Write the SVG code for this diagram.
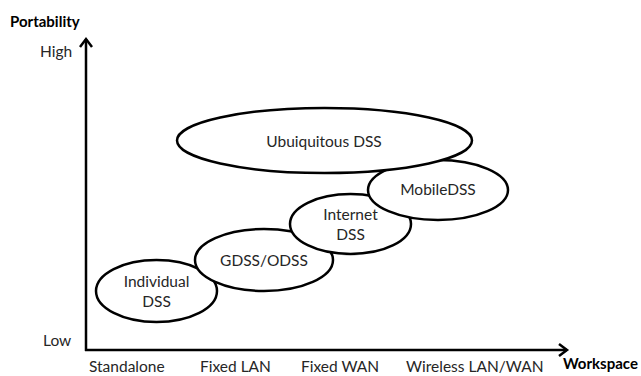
<svg xmlns="http://www.w3.org/2000/svg" width="641" height="376" viewBox="0 0 641 376">
<style>
  .lbl { font-family: Lato, "Liberation Sans", sans-serif; font-size: 15.5px; fill: #262626; }
  .bold { font-family: Lato, "Liberation Sans", sans-serif; font-size: 15px; font-weight: bold; fill: #000; }
  .node ellipse { fill: #fff; stroke: #000; stroke-width: 2.5; }
  .node text { font-family: Lato, "Liberation Sans", sans-serif; font-size: 15.5px; fill: #262626; text-anchor: middle; }
  .axis { stroke: #000; stroke-width: 2.5; fill: none; }
</style>
<rect width="641" height="376" fill="#fff"/>
<g id="connectors">
  <line class="axis" x1="86" y1="351" x2="86" y2="39"/>
  <polyline class="axis" points="80,47 86,39 92,47"/>
  <line class="axis" x1="85" y1="350" x2="567" y2="350"/>
  <polyline class="axis" points="559,344 567,350 559,356"/>
</g>
<g id="node-individual" class="node">
  <ellipse cx="156.5" cy="291" rx="60.5" ry="31"/>
  <text x="156.5" y="287">Individual</text>
  <text x="156.5" y="307">DSS</text>
</g>
<g id="node-gdss" class="node">
  <ellipse cx="264" cy="260" rx="69" ry="31"/>
  <text x="264" y="266">GDSS/ODSS</text>
</g>
<g id="node-internet" class="node">
  <ellipse cx="350.5" cy="224" rx="60.5" ry="30"/>
  <text x="350.5" y="220">Internet</text>
  <text x="350.5" y="240">DSS</text>
</g>
<g id="node-mobile" class="node">
  <ellipse cx="438" cy="190" rx="70" ry="30"/>
  <text x="438" y="195">MobileDSS</text>
</g>
<g id="node-ubiquitous" class="node">
  <ellipse cx="324.5" cy="140.5" rx="147.5" ry="32.5"/>
  <text x="324" y="147">Ubuiquitous DSS</text>
</g>
<g id="labels">
  <text class="bold" x="10" y="27">Portability</text>
  <text class="lbl" x="40" y="57">High</text>
  <text class="lbl" x="43" y="346">Low</text>
  <text class="lbl" x="89" y="372">Standalone</text>
  <text class="lbl" x="200" y="372">Fixed LAN</text>
  <text class="lbl" x="301" y="372">Fixed WAN</text>
  <text class="lbl" x="406" y="372">Wireless LAN/WAN</text>
  <text class="bold" x="563" y="369">Workspace</text>
</g>
</svg>
